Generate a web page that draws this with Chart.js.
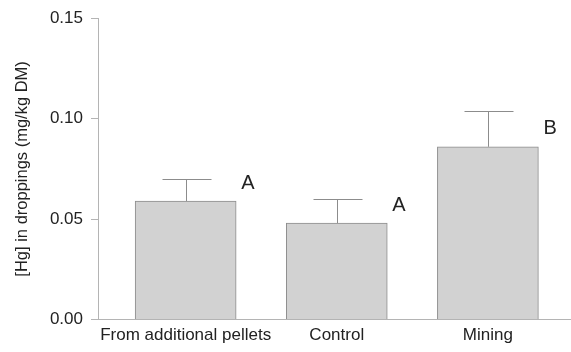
<!DOCTYPE html>
<html>
<head>
<meta charset="utf-8">
<script src="https://cdn.jsdelivr.net/npm/chart.js@4/dist/chart.umd.min.js"></script>
<style>
  html, body { margin: 0; padding: 0; background: #fff; }
  #wrap { width: 571px; height: 352px; }
</style>
</head>
<body>
<div id="wrap"><canvas id="c"></canvas></div>
<script>
// groups, means, upper error, significance letters
const categories = ["From additional pellets", "Control", "Mining"];
const means = [0.059, 0.048, 0.086];
const errors = [0.011, 0.012, 0.018];
const letters = ["A", "A", "B"];
const yTicks = [0.00, 0.05, 0.10, 0.15];

const axisGrey = "#b4b4b4";
const markGrey = "#8c8c8c";
const textCol = "#222";

// error bars + letters above the bars
const extras = {
  id: "extras",
  afterDatasetsDraw(chart) {
    const ctx = chart.ctx;
    const xs = chart.scales.x, ys = chart.scales.y;
    const meta = chart.getDatasetMeta(0);
    ctx.save();
    ctx.strokeStyle = markGrey;
    ctx.lineWidth = 1;
    means.forEach((m, i) => {
      const cx = Math.round(xs.getPixelForValue(i)) + 0.5;
      const yTop = ys.getPixelForValue(m);
      const yErr = Math.round(ys.getPixelForValue(m + errors[i])) + 0.5;
      ctx.beginPath();
      ctx.moveTo(cx, yTop);
      ctx.lineTo(cx, yErr);
      ctx.moveTo(cx - 24, yErr);
      ctx.lineTo(cx + 25, yErr);
      ctx.stroke();

      const bar = meta.data[i];
      ctx.fillStyle = textCol;
      ctx.font = "20px 'Liberation Sans', Arial, sans-serif";
      ctx.textAlign = "left";
      ctx.textBaseline = "middle";
      ctx.fillText(letters[i], bar.x + bar.width / 2 + 5, yTop - 18);
    });
    ctx.restore();
  }
};

new Chart(document.getElementById("c"), {
  type: "bar",
  data: {
    datasets: [{
      data: means.map((v, i) => ({ x: i, y: v })),
      backgroundColor: "#d2d2d2",
      borderColor: markGrey,
      borderWidth: 1,
      borderSkipped: "bottom",
      barThickness: 101
    }]
  },
  plugins: [extras],
  options: {
    responsive: true,
    maintainAspectRatio: false,
    animation: false,
    layout: { padding: { top: 16, right: 0, left: 0, bottom: 0 } },
    plugins: { legend: { display: false }, tooltip: { enabled: false } },
    scales: {
      x: {
        type: "linear",
        offset: false,
        min: -0.58,
        max: 2.55,
        afterBuildTicks(scale) {
          scale.ticks = categories.map((_, i) => ({ value: i }));
        },
        ticks: {
          callback: (v) => categories[v],
          color: textCol,
          font: { family: "'Liberation Sans', Arial, sans-serif", size: 17 },
          padding: 6,
          maxRotation: 0,
          autoSkip: false
        },
        grid: { display: false, drawTicks: false, offset: false },
        border: { display: true, color: axisGrey, width: 1 }
      },
      y: {
        min: 0,
        max: 0.15,
        afterBuildTicks(scale) {
          scale.ticks = yTicks.map(v => ({ value: v }));
        },
        afterFit(scale) { scale.width = 98; },
        ticks: {
          callback: (v) => v.toFixed(2),
          color: textCol,
          font: { family: "'Liberation Sans', Arial, sans-serif", size: 17 },
          padding: 8
        },
        grid: { display: true, drawOnChartArea: false, drawTicks: true, tickLength: 7, color: axisGrey },
        border: { display: true, color: axisGrey, width: 1 },
        title: {
          display: true,
          text: "[Hg] in droppings (mg/kg DM)",
          color: textCol,
          font: { family: "'Liberation Sans', Arial, sans-serif", size: 16.5 },
          padding: { top: 13, bottom: 0 }
        }
      }
    }
  }
});
</script>
</body>
</html>
